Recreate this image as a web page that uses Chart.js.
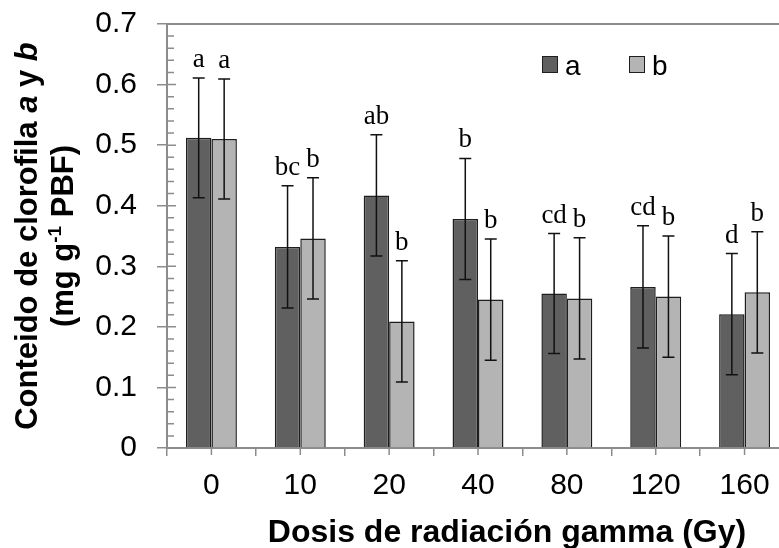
<!DOCTYPE html>
<html>
<head>
<meta charset="utf-8">
<script src="https://cdn.jsdelivr.net/npm/chart.js@4.4.0/dist/chart.umd.min.js"></script>
<style>
  html, body { margin: 0; padding: 0; background: #fff; overflow: hidden; }
  #wrap { width: 800px; height: 548px; }
</style>
</head>
<body>
<div id="wrap"><canvas id="chlChart" width="800" height="548"></canvas></div>
<script>
// values (mg g-1 PBF)
const doses = ['0', '10', '20', '40', '80', '120', '160'];
const chlA = [0.512, 0.332, 0.417, 0.378, 0.255, 0.266, 0.221];
const chlB = [0.510, 0.346, 0.209, 0.245, 0.247, 0.250, 0.257];
const errA = [0.099, 0.101, 0.100, 0.100, 0.099, 0.101, 0.100];
const errB = [0.099, 0.100, 0.100, 0.100, 0.100, 0.100, 0.100];
const letA = ['a', 'bc', 'ab', 'b', 'cd', 'cd', 'd'];
const letB = ['a', 'b', 'b', 'b', 'b', 'b', 'b'];
const yTicks = ['0', '0.1', '0.2', '0.3', '0.4', '0.5', '0.6', '0.7'];
const xTitle = 'Dosis de radiación gamma (Gy)';

const axisGray = '#8c8c8c';
const sans = "'Liberation Sans', Arial, sans-serif";
const serif = "'Liberation Serif', 'Times New Roman', serif";

function drawSegments(ctx, segs) {
    let w = 0;
    segs.forEach(s => { ctx.font = s.font; w += ctx.measureText(s.text).width; });
    let x = -w / 2;
    segs.forEach(s => {
        ctx.font = s.font;
        ctx.fillText(s.text, x, -(s.rise || 0));
        x += ctx.measureText(s.text).width;
    });
}

const extras = {
    id: 'extras',
    afterDatasetsDraw(chart) {
        const ctx = chart.ctx;
        const y = chart.scales.y;
        [[errA, letA], [errB, letB]].forEach(([err, lets], di) => {
            const meta = chart.getDatasetMeta(di);
            const vals = chart.data.datasets[di].data;
            meta.data.forEach((bar, i) => {
                const x = bar.x;
                const top = y.getPixelForValue(vals[i] + err[i]);
                const bot = y.getPixelForValue(vals[i] - err[i]);
                ctx.save();
                ctx.strokeStyle = '#111';
                ctx.lineWidth = 1.5;
                ctx.beginPath();
                ctx.moveTo(x, top); ctx.lineTo(x, bot);
                ctx.moveTo(x - 6, top); ctx.lineTo(x + 6, top);
                ctx.moveTo(x - 6, bot); ctx.lineTo(x + 6, bot);
                ctx.stroke();
                ctx.fillStyle = '#000';
                ctx.font = '27px ' + serif;
                ctx.textAlign = 'center';
                ctx.textBaseline = 'alphabetic';
                ctx.fillText(lets[i], x, top - 11);
                ctx.restore();
            });
        });
    },
    afterDraw(chart) {
        const ctx = chart.ctx;
        const area = chart.chartArea;
        const xs = chart.scales.x, ys = chart.scales.y;
        ctx.save();
        ctx.strokeStyle = axisGray;
        ctx.lineWidth = 1.5;
        ctx.beginPath();
        // minor / inner ticks on y axis
        for (let k = 0; k <= 35; k++) {
            const py = ys.getPixelForValue(k * 0.02);
            const len = (k % 5 === 0) ? 9 : 7;
            ctx.moveTo(area.left, py);
            ctx.lineTo(area.left + len, py);
        }
        // ticks at category centres
        doses.forEach((d, i) => {
            const px = xs.getPixelForValue(i);
            ctx.moveTo(px, area.bottom);
            ctx.lineTo(px, area.bottom + 7);
        });
        ctx.stroke();
        // top frame line
        ctx.lineWidth = 2;
        ctx.beginPath();
        ctx.moveTo(area.left, area.top);
        ctx.lineTo(area.right, area.top);
        ctx.stroke();

        // legend
        const legX = [542, 629];
        chart.data.datasets.forEach((ds, i) => {
            ctx.fillStyle = ds.backgroundColor;
            ctx.fillRect(legX[i], 56, 15, 16);
            ctx.strokeStyle = '#1e1e1e';
            ctx.lineWidth = 1;
            ctx.strokeRect(legX[i] + 0.5, 56.5, 15, 16);
            ctx.fillStyle = '#000';
            ctx.font = '28px ' + sans;
            ctx.textAlign = 'left';
            ctx.textBaseline = 'alphabetic';
            ctx.fillText(ds.label, legX[i] + 23, 75);
        });

        // x axis title
        ctx.fillStyle = '#000';
        ctx.font = 'bold 32px ' + sans;
        ctx.textAlign = 'center';
        ctx.textBaseline = 'alphabetic';
        ctx.fillText(xTitle, 507, 542);

        // y axis title, two rotated lines
        ctx.textAlign = 'left';
        const mid = (area.top + area.bottom) / 2;
        ctx.save();
        ctx.translate(37, mid);
        ctx.rotate(-Math.PI / 2);
        drawSegments(ctx, [
            { text: 'Conteido de clorofila ', font: 'bold 31px ' + sans },
            { text: 'a', font: 'italic bold 31px ' + sans },
            { text: ' y ', font: 'bold 31px ' + sans },
            { text: 'b', font: 'italic bold 31px ' + sans }
        ]);
        ctx.restore();
        ctx.save();
        ctx.translate(73, mid);
        ctx.rotate(-Math.PI / 2);
        drawSegments(ctx, [
            { text: '(mg g', font: 'bold 31px ' + sans },
            { text: '-1', font: 'bold 19px ' + sans, rise: 12 },
            { text: ' PBF)', font: 'bold 31px ' + sans }
        ]);
        ctx.restore();
        ctx.restore();
    }
};

new Chart(document.getElementById('chlChart'), {
    type: 'bar',
    data: {
        labels: doses,
        datasets: [
            { label: 'a', data: chlA, backgroundColor: '#606060', borderColor: '#1e1e1e', borderWidth: 1.5 },
            { label: 'b', data: chlB, backgroundColor: '#b4b4b4', borderColor: '#1e1e1e', borderWidth: 1.5 }
        ]
    },
    options: {
        responsive: false,
        animation: false,
        layout: { padding: { top: 24, right: 11, left: 0, bottom: 0 } },
        datasets: { bar: { barPercentage: 1, categoryPercentage: 0.573 } },
        plugins: { legend: { display: false }, tooltip: { enabled: false } },
        scales: {
            x: {
                grid: { drawOnChartArea: false, offset: true, color: axisGray, lineWidth: 1.5, tickLength: 8 },
                border: { color: axisGray, width: 2 },
                ticks: { color: '#000', font: { family: sans, size: 30 }, padding: 12, maxRotation: 0 },
                afterFit(s) { s.height = 100; s.paddingLeft = 0; s.paddingRight = 0; }
            },
            y: {
                min: 0, max: 0.7,
                ticks: { stepSize: 0.1, color: '#000', font: { family: sans, size: 30 }, padding: 20,
                    callback: (v, i) => yTicks[i] },
                grid: { drawOnChartArea: false, color: axisGray, lineWidth: 1.5, tickLength: 10 },
                border: { color: axisGray, width: 2 },
                afterFit(s) { s.width = 167; s.paddingTop = 0; s.paddingBottom = 0; }
            }
        }
    },
    plugins: [extras]
});
</script>
</body>
</html>
